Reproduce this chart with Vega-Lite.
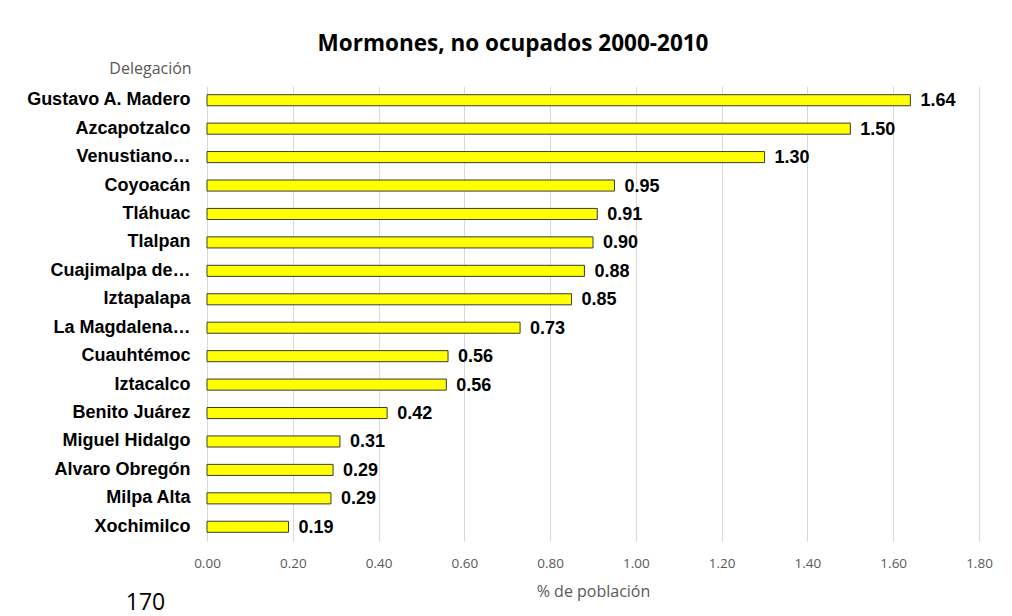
{
  "$schema": "https://vega.github.io/schema/vega-lite/v6.json",
  "width": 772,
  "height": 455,
  "autosize": {"type": "none"},
  "padding": {"left": 207, "top": 86, "right": 33, "bottom": 75},
  "background": "white",
  "config": {"view": {"stroke": null}},
  "title": {
    "text": "Mormones, no ocupados 2000-2010",
    "font": "Open Sans",
    "fontSize": 22.5,
    "fontWeight": "bold",
    "color": "#000000",
    "anchor": "middle",
    "dx": -80,
    "offset": 5
  },
  "data": {
    "values": [
      {"delegacion": "Gustavo A. Madero", "pct": 1.64},
      {"delegacion": "Azcapotzalco", "pct": 1.50},
      {"delegacion": "Venustiano…", "pct": 1.30},
      {"delegacion": "Coyoacán", "pct": 0.95},
      {"delegacion": "Tláhuac", "pct": 0.91},
      {"delegacion": "Tlalpan", "pct": 0.90},
      {"delegacion": "Cuajimalpa de…", "pct": 0.88},
      {"delegacion": "Iztapalapa", "pct": 0.85},
      {"delegacion": "La Magdalena…", "pct": 0.73},
      {"delegacion": "Cuauhtémoc", "pct": 0.562},
      {"delegacion": "Iztacalco", "pct": 0.558},
      {"delegacion": "Benito Juárez", "pct": 0.42},
      {"delegacion": "Miguel Hidalgo", "pct": 0.31},
      {"delegacion": "Alvaro Obregón", "pct": 0.294},
      {"delegacion": "Milpa Alta", "pct": 0.289},
      {"delegacion": "Xochimilco", "pct": 0.19}
    ]
  },
  "encoding": {
    "y": {
      "field": "delegacion",
      "type": "nominal",
      "sort": {"field": "pct", "order": "descending"},
      "scale": {"paddingInner": 0.61, "paddingOuter": 0.305},
      "axis": {
        "title": "Delegación",
        "titleAngle": 0,
        "titleX": -57,
        "titleY": -13,
        "titleAlign": "center",
        "titleBaseline": "alphabetic",
        "titleFont": "Open Sans",
        "titleFontSize": 16,
        "titleFontWeight": "normal",
        "titleColor": "#595959",
        "labelFont": "Liberation Sans",
        "labelFontSize": 18,
        "labelFontWeight": "bold",
        "labelColor": "#000000",
        "labelPadding": 17,
        "labelLimit": 300,
        "ticks": false,
        "domain": false,
        "grid": false
      }
    }
  },
  "layer": [
    {
      "mark": {"type": "bar", "color": "#FFFF00", "stroke": "#3a3a3a", "strokeWidth": 1},
      "encoding": {
        "x": {
          "field": "pct",
          "type": "quantitative",
          "scale": {"domain": [0, 1.8], "nice": false},
          "axis": {
            "title": "% de población",
            "values": [0, 0.2, 0.4, 0.6, 0.8, 1.0, 1.2, 1.4, 1.6, 1.8],
            "format": ".2f",
            "labelFlush": false,
            "labelFont": "Open Sans",
            "labelFontSize": 13.5,
            "labelColor": "#595959",
            "labelPadding": 15,
            "titleFont": "Open Sans",
            "titleFontSize": 16,
            "titleFontWeight": "normal",
            "titleColor": "#595959",
            "titlePadding": 14,
            "ticks": false,
            "domain": false,
            "grid": true,
            "gridColor": "#d9d9d9",
            "gridWidth": 1
          }
        }
      }
    },
    {
      "mark": {
        "type": "text",
        "align": "left",
        "baseline": "middle",
        "dx": 10,
        "dy": 1,
        "font": "Liberation Sans",
        "fontSize": 18,
        "fontWeight": "bold",
        "color": "#000000"
      },
      "encoding": {
        "x": {
          "field": "pct",
          "type": "quantitative",
          "scale": {"domain": [0, 1.8], "nice": false},
          "axis": {
            "orient": "bottom",
            "title": "170",
            "labels": false,
            "ticks": false,
            "domain": false,
            "grid": false,
            "offset": 0,
            "titleX": -62,
            "titleY": 68,
            "titleAlign": "center",
            "titleBaseline": "alphabetic",
            "titleFont": "Open Sans",
            "titleFontSize": 23,
            "titleFontWeight": "normal",
            "titleColor": "#000000"
          }
        },
        "text": {"field": "pct", "type": "quantitative", "format": ".2f"}
      }
    }
  ],
  "resolve": {"scale": {"x": "independent"}}
}
